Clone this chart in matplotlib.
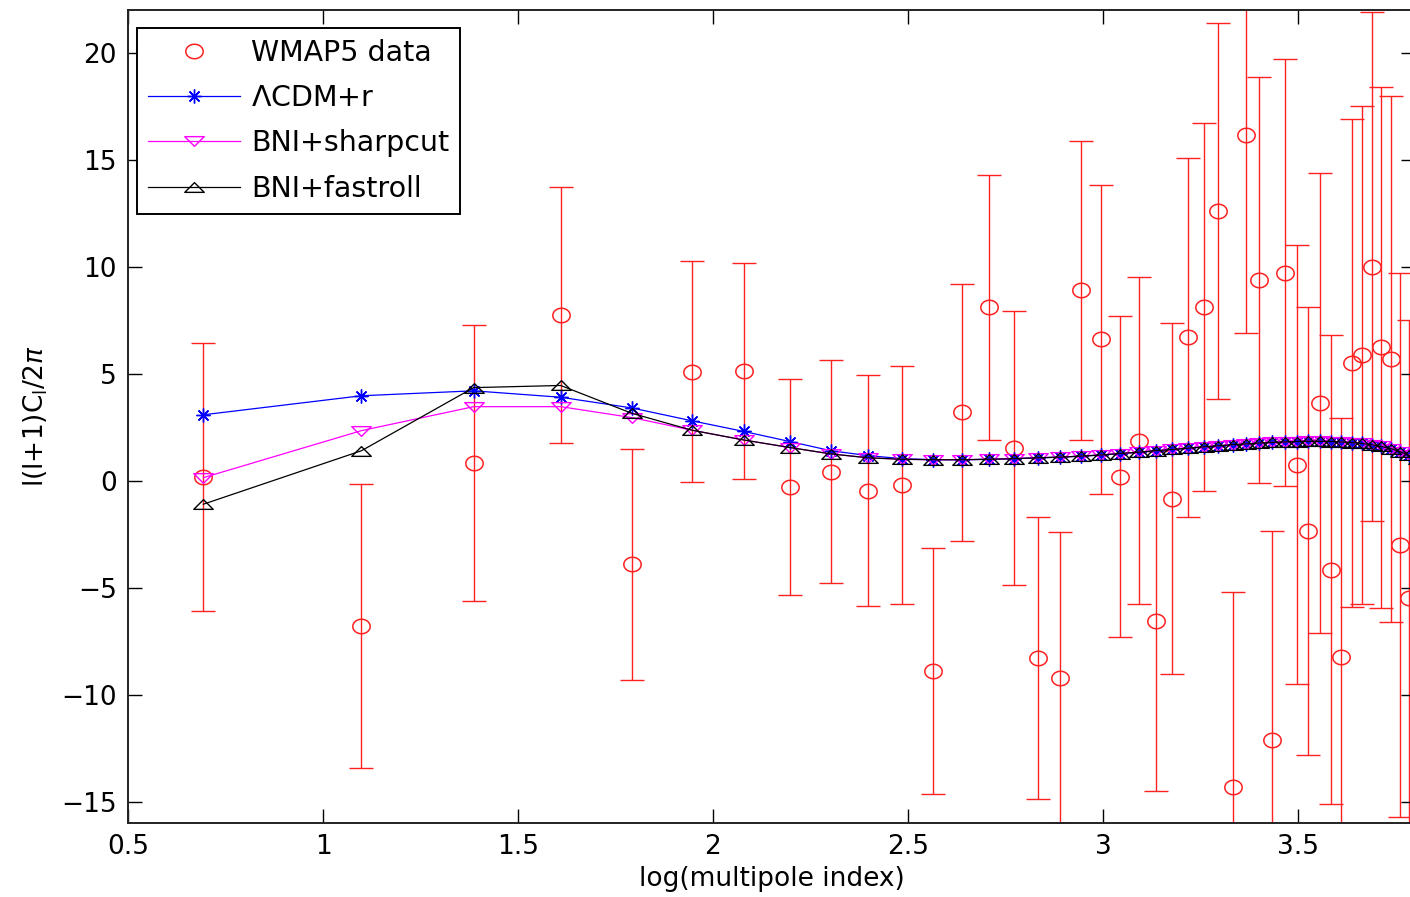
import matplotlib
matplotlib.use('Agg')
import matplotlib.pyplot as plt
from matplotlib.path import Path
import numpy as np

plt.rcParams['font.family'] = ['DejaVu Sans']
plt.rcParams['mathtext.fontset'] = 'dejavusans'

# multipoles 2..45, x axis is ln(l)
ell = np.arange(2, 46)

# WMAP5 binned TT data (l=2..44) and symmetric errors
wmap = [0.17, -6.8, 0.84, 7.75, -3.9, 5.1, 5.14, -0.3, 0.42, -0.47,
        -0.19, -8.9, 3.2, 8.1, 1.53, -8.3, -9.2, 8.9, 6.6, 0.19,
        1.87, -6.54, -0.84, 6.7, 8.1, 12.6, -14.3, 16.15, 9.38, -12.1,
        9.73, 0.75, -2.34, 3.63, -4.16, -8.22, 5.5, 5.87, 10.0, 6.23,
        5.7, -3.0, -5.5]
wmap_err = [6.25, 6.65, 6.45, 5.97, 5.4, 5.15, 5.04, 5.05, 5.2, 5.4,
            5.56, 5.75, 6.0, 6.2, 6.4, 6.6, 6.8, 7.0, 7.2, 7.5,
            7.65, 7.95, 8.2, 8.4, 8.6, 8.8, 9.1, 9.25, 9.5, 9.76,
            10.0, 10.25, 10.47, 10.77, 10.96, 11.17, 11.4, 11.63, 11.9, 12.17,
            12.3, 12.7, 13.0]

# common high-l tail of the three models (l=13..45)
tail = [0.98, 0.98, 1.0, 1.03, 1.07, 1.1, 1.15, 1.2, 1.27, 1.33,
        1.4, 1.46, 1.52, 1.58, 1.63, 1.68, 1.72, 1.76, 1.79, 1.81,
        1.83, 1.84, 1.84, 1.83, 1.81, 1.78, 1.74, 1.68, 1.6, 1.5,
        1.36, 1.18, 1.0]

lcdm = [3.08, 3.97, 4.2, 3.9, 3.4, 2.8, 2.3, 1.83, 1.4, 1.17, 1.03] + tail
sharpcut = [0.14, 2.34, 3.46, 3.46, 2.95, 2.36, 1.9, 1.55, 1.25, 1.07, 1.0] + tail
fastroll = [-1.1, 1.4, 4.35, 4.45, 3.15, 2.36, 1.9, 1.55, 1.25, 1.07, 1.0] + tail

x_data = np.log(ell[:len(wmap)])
x_mod = np.log(ell)

# the original is a bit stretched sideways, so markers are wider than tall
t = np.linspace(0, 2 * np.pi, 60)
ellipse = Path(np.column_stack([1.2 * np.cos(t), np.sin(t)]), closed=True)
tri_up = Path([(0, 0.5), (-1, -0.5), (1, -0.5), (0, 0.5)], closed=True)
tri_down = Path([(0, -0.5), (-1, 0.5), (1, 0.5), (0, -0.5)], closed=True)

fig = plt.figure(figsize=(14.1, 8.97), dpi=100)
ax = fig.add_axes([128 / 1410, 74 / 897, 1287 / 1410, 813 / 897])

red = '#ff2020'
ax.errorbar(x_data, wmap, yerr=wmap_err, fmt='none', ecolor=red,
            elinewidth=1.0, capsize=8.5, capthick=1.0, zorder=1)
ax.plot(x_data, wmap, ls='none', marker=ellipse, mfc='none', mec=red, ms=12.5, mew=1.1,
        label='WMAP5 data', zorder=2)
ax.plot(x_mod, lcdm, '-', color='#0000ff', marker=(8, 2, 0), ms=10, mew=1.0,
        lw=0.9, label=r'$\Lambda$CDM+r', zorder=3)
ax.plot(x_mod, sharpcut, '-', marker=tri_down, color='#ff00ff', mfc='none', ms=14, mew=1.0,
        lw=0.9, label='BNI+sharpcut', zorder=4)
ax.plot(x_mod, fastroll, '-', marker=tri_up, color='black', mfc='none', ms=14, mew=1.0,
        lw=0.9, label='BNI+fastroll', zorder=5)

ax.set_xlim(0.5, 3.8)
ax.set_ylim(-16, 22)
ax.set_xticks(np.arange(0.5, 3.51, 0.5))
ax.set_xticklabels(['0.5', '1', '1.5', '2', '2.5', '3', '3.5'])
ax.set_yticks(np.arange(-15, 21, 5))
ax.tick_params(direction='in', length=10, width=1.0, top=True, right=True,
               labelsize=19, pad=8)
for s in ax.spines.values():
    s.set_linewidth(1.4)
    s.set_color('#222222')

ax.set_xlabel('log(multipole index)', fontsize=19, labelpad=4)
ax.set_ylabel(r'l(l+1)C$_{\rm l}$/2$\pi$', fontsize=19, labelpad=8)

leg = ax.legend(loc='upper left', bbox_to_anchor=(0.007, 0.978), borderaxespad=0,
                fontsize=20.5, handlelength=3.2, handletextpad=0.4, labelspacing=0.6,
                fancybox=False, framealpha=1, edgecolor='black', borderpad=0.4)
leg.get_frame().set_linewidth(1.4)

plt.savefig('out.png', dpi=100)
plt.close()
